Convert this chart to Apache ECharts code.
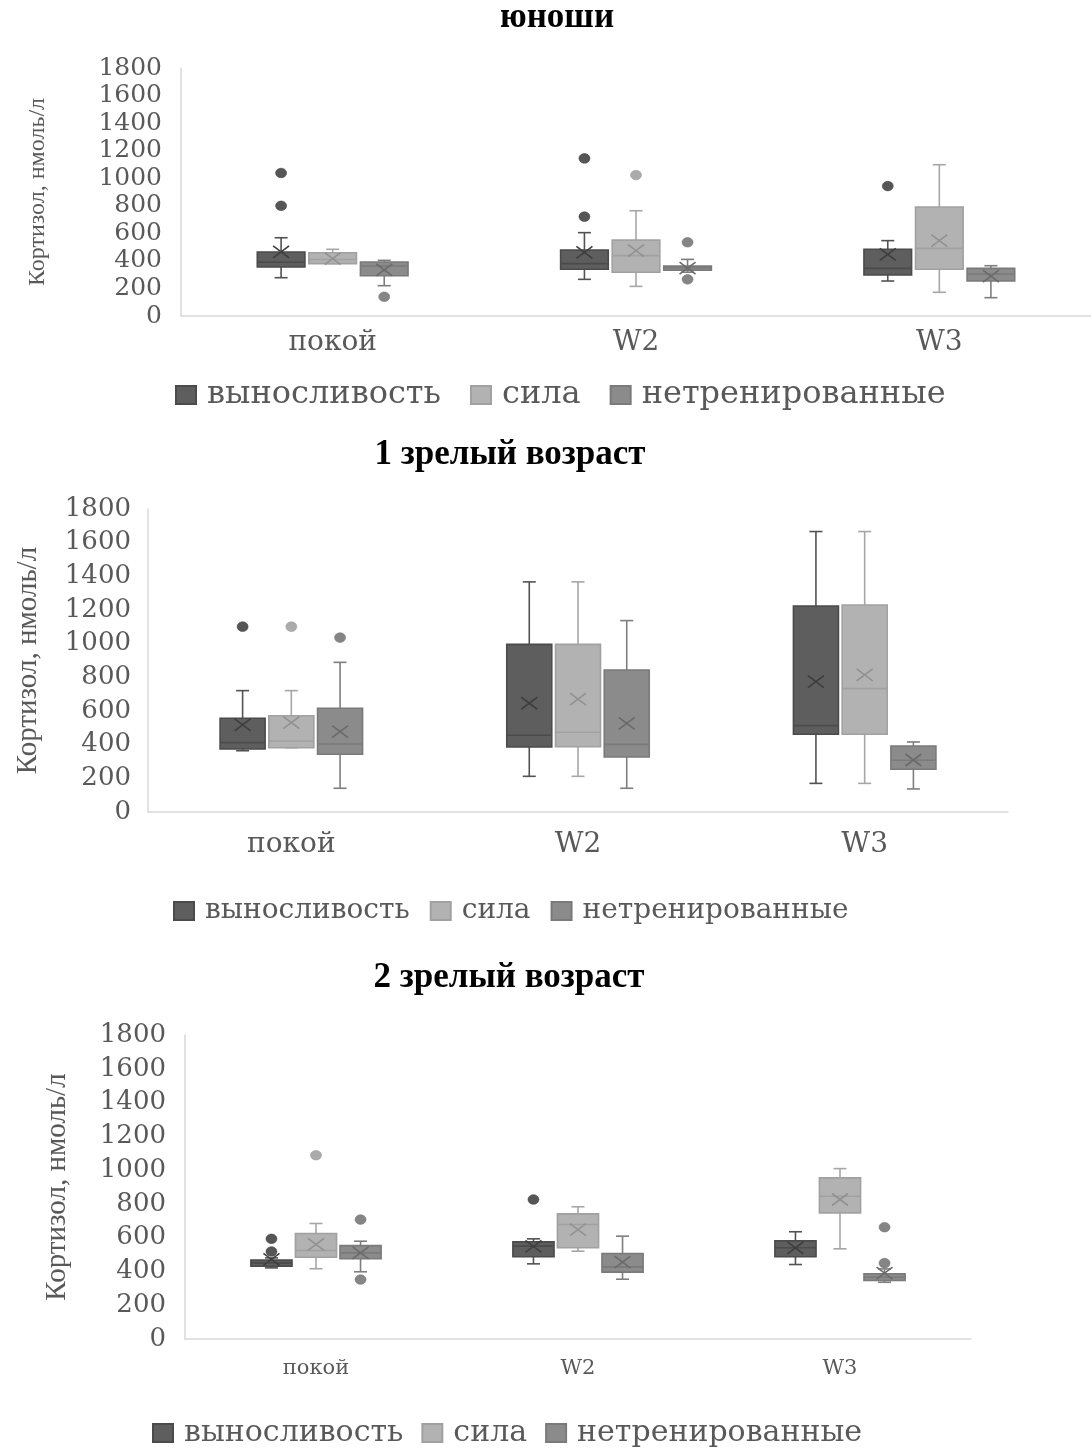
<!DOCTYPE html>
<html>
<head>
<meta charset="utf-8">
<script src="https://cdn.jsdelivr.net/npm/echarts@6/dist/echarts.min.js"></script>
<style>
  html, body { margin: 0; padding: 0; background: #ffffff; }
  #chart { width: 1091px; height: 1448px; }
</style>
</head>
<body>
<div id="chart"></div>
<script>
// Cortisol (nmol/l) box plots: three age panels, three training groups, three test conditions.
const categories = ['покой', 'W2', 'W3'];
const groupNames = ['выносливость', 'сила', 'нетренированные'];
const panelTitles = ['юноши', '1 зрелый возраст', '2 зрелый возраст'];
const yAxisName = 'Кортизол, нмоль/л';
const yMin = 0, yMax = 1800, yStep = 200;

// Each box row: [min, Q1, median, Q3, max] for покой, W2, W3.
// --- юноши ---
const youthEnduranceBox = [[278, 356, 390, 464, 568], [266, 339, 380, 479, 605], [254, 298, 346, 484, 547]];
const youthEnduranceMean = [465, 462, 448];
const youthEnduranceOutliers = [[0, 1038], [0, 800], [1, 1144], [1, 721], [2, 943]];
const youthStrengthBox = [[380, 380, 410, 459, 484], [215, 317, 438, 551, 764], [172, 339, 491, 791, 1098]];
const youthStrengthMean = [417, 474, 547];
const youthStrengthOutliers = [[1, 1023]];
const youthUntrainedBox = [[220, 292, 363, 392, 404], [318, 332, 351, 363, 411], [133, 254, 305, 346, 365]];
const youthUntrainedMean = [334, 347, 290];
const youthUntrainedOutliers = [[0, 140], [1, 535], [1, 266]];

// --- 1 зрелый возраст ---
const adult1EnduranceBox = [[364, 374, 412, 557, 721], [212, 386, 456, 996, 1367], [170, 462, 513, 1224, 1666]];
const adult1EnduranceMean = [517, 646, 774];
const adult1EnduranceOutliers = [[0, 1101]];
const adult1StrengthBox = [[382, 382, 422, 572, 721], [212, 388, 474, 996, 1367], [170, 462, 733, 1230, 1666]];
const adult1StrengthMean = [531, 670, 814];
const adult1StrengthOutliers = [[0, 1101]];
const adult1UntrainedBox = [[141, 343, 404, 616, 889], [141, 327, 402, 844, 1137], [137, 254, 307, 392, 416]];
const adult1UntrainedMean = [477, 527, 309];
const adult1UntrainedOutliers = [[0, 1036]];

// --- 2 зрелый возраст ---
const adult2EnduranceBox = [[421, 431, 451, 467, 480], [445, 487, 550, 575, 593], [441, 487, 540, 581, 635]];
const adult2EnduranceMean = [472, 548, 540];
const adult2EnduranceOutliers = [[0, 593], [0, 518], [1, 826]];
const adult2StrengthBox = [[416, 484, 524, 625, 684], [520, 540, 678, 741, 783], [534, 747, 845, 954, 1009]];
const adult2StrengthMean = [560, 648, 826];
const adult2StrengthOutliers = [[0, 1088]];
const adult2UntrainedBox = [[398, 475, 510, 553, 579], [354, 396, 427, 506, 609], [336, 346, 366, 386, 415]];
const adult2UntrainedMean = [510, 455, 390];
const adult2UntrainedOutliers = [[0, 707], [0, 352], [2, 662], [2, 449]];

const panelBoxes = [
  [youthEnduranceBox, youthStrengthBox, youthUntrainedBox],
  [adult1EnduranceBox, adult1StrengthBox, adult1UntrainedBox],
  [adult2EnduranceBox, adult2StrengthBox, adult2UntrainedBox]
];
const panelMeans = [
  [youthEnduranceMean, youthStrengthMean, youthUntrainedMean],
  [adult1EnduranceMean, adult1StrengthMean, adult1UntrainedMean],
  [adult2EnduranceMean, adult2StrengthMean, adult2UntrainedMean]
];
const panelOutliers = [
  [youthEnduranceOutliers, youthStrengthOutliers, youthUntrainedOutliers],
  [adult1EnduranceOutliers, adult1StrengthOutliers, adult1UntrainedOutliers],
  [adult2EnduranceOutliers, adult2StrengthOutliers, adult2UntrainedOutliers]
];

// Grey shades per training group.
const groupStyles = [
  { fill: '#5e5e5e', stroke: '#4b4b4b', whisker: '#525252', mark: '#3e3e3e', dot: '#565656' },
  { fill: '#b2b2b2', stroke: '#a1a1a1', whisker: '#a6a6a6', mark: '#919191', dot: '#ababab' },
  { fill: '#8b8b8b', stroke: '#7a7a7a', whisker: '#7e7e7e', mark: '#6a6a6a', dot: '#858585' }
];

// Layout of each panel.
const panelLayouts = [
  { grid: { left: 181, top: 68, width: 910, height: 248 }, title: [557, 18],
    tickFont: 25, tickMargin: 19, catFont: 28, catMargin: 13, nameFont: 24, nameGap: 131,
    legendLeft: 175, legendTop: 379, legendFont: 32, legendGap: 29 },
  { grid: { left: 148, top: 509, width: 860, height: 303 }, title: [510, 455],
    tickFont: 26, tickMargin: 17, catFont: 28, catMargin: 19, nameFont: 29, nameGap: 105,
    legendLeft: 173, legendTop: 897, legendFont: 28, legendGap: 20 },
  { grid: { left: 185, top: 1035, width: 786, height: 304 }, title: [509, 978],
    tickFont: 26, tickMargin: 19, catFont: 21, catMargin: 19, nameFont: 29, nameGap: 113,
    legendLeft: 152, legendTop: 1418, legendFont: 30, legendGap: 18 }
];

const slotStep = 0.17;   // distance between neighbouring boxes, fraction of band
const boxFrac = 0.157;   // box width, fraction of band
const textGrey = '#595959';
const axisGrey = '#d9d9d9';

function boxRenderer(slot, st) {
  return function (params, api) {
    const cat = api.value(0);
    const band = api.size([1, 0])[0];
    const cx = api.coord([cat, 0])[0] + (slot - 1) * band * slotStep;
    const half = band * boxFrac / 2;
    const cap = 6.5;
    const y = function (v) { return api.coord([cat, v])[1]; };
    const yLo = y(api.value(1)), yQ1 = y(api.value(2)), yMed = y(api.value(3));
    const yQ3 = y(api.value(4)), yHi = y(api.value(5)), yMean = y(api.value(6));
    const line = function (x1, y1, x2, y2, color) {
      return { type: 'line', shape: { x1: x1, y1: y1, x2: x2, y2: y2 },
               style: { stroke: color, lineWidth: 1.6 } };
    };
    return {
      type: 'group',
      children: [
        line(cx, yLo, cx, yQ1, st.whisker),
        line(cx, yQ3, cx, yHi, st.whisker),
        line(cx - cap, yLo, cx + cap, yLo, st.whisker),
        line(cx - cap, yHi, cx + cap, yHi, st.whisker),
        { type: 'rect', shape: { x: cx - half, y: yQ3, width: half * 2, height: Math.max(yQ1 - yQ3, 1) },
          style: { fill: st.fill, stroke: st.stroke, lineWidth: 1.6 } },
        line(cx - half, yMed, cx + half, yMed, st.stroke),
        line(cx - 8, yMean - 6, cx + 8, yMean + 6, st.mark),
        line(cx - 8, yMean + 6, cx + 8, yMean - 6, st.mark)
      ]
    };
  };
}

function outlierRenderer(slot, st) {
  return function (params, api) {
    const cat = api.value(0);
    const band = api.size([1, 0])[0];
    const cx = api.coord([cat, 0])[0] + (slot - 1) * band * slotStep;
    const cy = api.coord([cat, api.value(1)])[1];
    return { type: 'ellipse', shape: { cx: cx, cy: cy, rx: 5.5, ry: 4.8 },
             style: { fill: st.dot, stroke: st.stroke, lineWidth: 0.6 } };
  };
}

const grids = [], xAxes = [], yAxes = [], series = [], legends = [], graphics = [];

panelLayouts.forEach(function (pl, p) {
  grids.push(Object.assign({ containLabel: false }, pl.grid));
  xAxes.push({
    type: 'category', gridIndex: p, data: categories,
    axisLine: { show: true, lineStyle: { color: axisGrey, width: 1.5 } },
    axisTick: { show: false },
    axisLabel: { color: textGrey, fontFamily: 'DejaVu Serif', fontSize: pl.catFont, margin: pl.catMargin },
    splitLine: { show: false }
  });
  yAxes.push({
    type: 'value', gridIndex: p, min: yMin, max: yMax, interval: yStep,
    name: yAxisName, nameLocation: 'middle', nameRotate: 90, nameGap: pl.nameGap,
    nameTextStyle: { color: textGrey, fontFamily: 'Liberation Serif', fontSize: pl.nameFont },
    axisLine: { show: true, lineStyle: { color: axisGrey, width: 1.5 } },
    axisTick: { show: false },
    axisLabel: { color: textGrey, fontFamily: 'DejaVu Serif', fontSize: pl.tickFont, margin: pl.tickMargin,
                 formatter: function (v) { return String(v); } },
    splitLine: { show: false }
  });
  groupNames.forEach(function (name, g) {
    const st = groupStyles[g];
    const boxes = panelBoxes[p][g];
    const means = panelMeans[p][g];
    series.push({
      type: 'custom', name: name, xAxisIndex: p, yAxisIndex: p,
      renderItem: boxRenderer(g, st),
      itemStyle: { color: st.fill, borderColor: st.stroke, borderWidth: 1 },
      encode: { x: 0, y: [1, 2, 3, 4, 5, 6] },
      data: boxes.map(function (b, i) { return [i].concat(b).concat([means[i]]); }),
      z: 2, silent: true
    });
    series.push({
      type: 'custom', name: name, xAxisIndex: p, yAxisIndex: p,
      renderItem: outlierRenderer(g, st),
      itemStyle: { color: st.fill, borderColor: st.stroke, borderWidth: 1 },
      encode: { x: 0, y: 1 },
      data: panelOutliers[p][g],
      z: 3, silent: true
    });
  });
  legends.push({
    data: groupNames, left: pl.legendLeft, top: pl.legendTop, padding: 0,
    icon: 'rect', itemWidth: 20, itemHeight: 18, itemGap: pl.legendGap, selectedMode: false,
    textStyle: { color: textGrey, fontFamily: 'DejaVu Serif', fontSize: pl.legendFont, padding: [0, 0, 0, 6] }
  });
  graphics.push({
    type: 'text', x: pl.title[0], y: pl.title[1],
    style: { text: panelTitles[p], fontFamily: 'Liberation Serif', fontWeight: 'bold', fontSize: 35,
             fill: '#000000', align: 'center', verticalAlign: 'middle',
             textAlign: 'center', textVerticalAlign: 'middle' }
  });
});

const chart = echarts.init(document.getElementById('chart'));
chart.setOption({
  backgroundColor: '#ffffff',
  animation: false,
  grid: grids,
  xAxis: xAxes,
  yAxis: yAxes,
  legend: legends,
  graphic: graphics,
  series: series
});
</script>
</body>
</html>
